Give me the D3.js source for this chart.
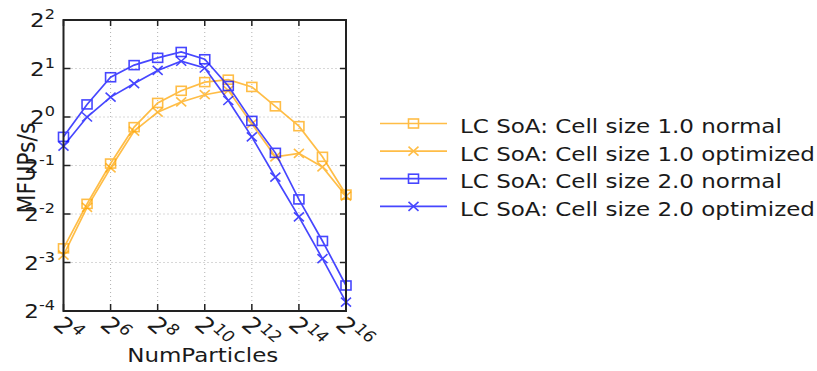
<!DOCTYPE html>
<html>
<head>
<meta charset="utf-8">
<script src="https://cdn.jsdelivr.net/npm/d3@7"></script>
<style>
  body { margin: 0; background: #fff; }
  text { font-family: "DejaVu Sans", sans-serif; fill: #1a1a1a; }
</style>
</head>
<body>
<svg id="chart" width="817" height="371"></svg>
<script>
// data (MFUPs/s against number of particles)
var numParticles = [16, 32, 64, 128, 256, 512, 1024, 2048, 4096, 8192, 16384, 32768, 65536];
var cs1Normal    = [0.153, 0.289, 0.514, 0.865, 1.223, 1.454, 1.647, 1.705, 1.537, 1.165, 0.877, 0.566, 0.330];
var cs1Optimized = [0.139, 0.275, 0.483, 0.818, 1.072, 1.240, 1.375, 1.464, 0.908, 0.566, 0.595, 0.490, 0.323];
var cs2Normal    = [0.753, 1.197, 1.765, 2.099, 2.329, 2.532, 2.282, 1.558, 0.946, 0.599, 0.308, 0.170, 0.090];
var cs2Optimized = [0.660, 1.000, 1.329, 1.613, 1.945, 2.219, 2.014, 1.266, 0.753, 0.423, 0.240, 0.132, 0.071];

var seriesNames = ["LC SoA: Cell size 1.0 normal", "LC SoA: Cell size 1.0 optimized",
                   "LC SoA: Cell size 2.0 normal", "LC SoA: Cell size 2.0 optimized"];
var xTickExps = [4, 6, 8, 10, 12, 14, 16];
var yTickExps = [-4, -3, -2, -1, 0, 1, 2];

var series = [
    {name: seriesNames[0], values: cs1Normal,    color: "#FFA500", marker: "square"},
    {name: seriesNames[1], values: cs1Optimized, color: "#FFA500", marker: "x"},
    {name: seriesNames[2], values: cs2Normal,    color: "#0000FF", marker: "square"},
    {name: seriesNames[3], values: cs2Optimized, color: "#0000FF", marker: "x"}
];

var plotLeft = 63.5, plotRight = 346, plotTop = 20, plotBottom = 311;
var sx = 1.15; // the picture is a bit wider than tall, so text is stretched
var svg = d3.select("#chart");

var x = d3.scaleLog().base(2).domain([16, 65536]).range([plotLeft, plotRight]);
var y = d3.scaleLog().base(2).domain([1 / 16, 4]).range([plotBottom, plotTop]);

// grid
var grid = svg.append("g").attr("stroke", "#b0b0b0").attr("stroke-width", 1)
    .attr("stroke-dasharray", "1,3");
grid.selectAll("line.gx").data(xTickExps.slice(1, -1)).enter().append("line")
    .attr("x1", function(d) { return x(Math.pow(2, d)); })
    .attr("x2", function(d) { return x(Math.pow(2, d)); })
    .attr("y1", plotTop).attr("y2", plotBottom);
grid.selectAll("line.gy").data(yTickExps.slice(1, -1)).enter().append("line")
    .attr("y1", function(d) { return y(Math.pow(2, d)); })
    .attr("y2", function(d) { return y(Math.pow(2, d)); })
    .attr("x1", plotLeft).attr("x2", plotRight);

// series
var line = d3.line()
    .x(function(d) { return x(d[0]); })
    .y(function(d) { return y(d[1]); });

function drawMarker(g, kind, color) {
    if (kind == "square") {
        g.append("rect").attr("x", -5).attr("y", -4.5).attr("width", 10).attr("height", 9)
            .attr("fill", "none").attr("stroke", color).attr("stroke-width", 1.6);
    } else {
        g.append("path").attr("d", "M-5,-4.5L5,4.5M-5,4.5L5,-4.5")
            .attr("stroke", color).attr("stroke-width", 1.6);
    }
}

var plot = svg.append("g");
series.forEach(function(s) {
    var pts = numParticles.map(function(n, i) { return [n, s.values[i]]; });
    var g = plot.append("g").attr("opacity", 0.72);
    g.append("path").datum(pts).attr("d", line)
        .attr("fill", "none").attr("stroke", s.color).attr("stroke-width", 1.7);
    g.selectAll("g.m").data(pts).enter().append("g")
        .attr("transform", function(d) { return "translate(" + x(d[0]) + "," + y(d[1]) + ")"; })
        .each(function() { drawMarker(d3.select(this), s.marker, s.color); });
});

// frame and inward ticks on all sides
var frame = svg.append("g").attr("stroke", "#222").attr("fill", "none");
frame.append("rect").attr("x", plotLeft).attr("y", plotTop)
    .attr("width", plotRight - plotLeft).attr("height", plotBottom - plotTop).attr("stroke-width", 2);
xTickExps.forEach(function(e) {
    var px = x(Math.pow(2, e));
    frame.append("line").attr("x1", px).attr("x2", px).attr("y1", plotBottom).attr("y2", plotBottom - 7).attr("stroke-width", 1.5);
    frame.append("line").attr("x1", px).attr("x2", px).attr("y1", plotTop).attr("y2", plotTop + 6).attr("stroke-width", 1.5);
});
yTickExps.forEach(function(e) {
    var py = y(Math.pow(2, e));
    frame.append("line").attr("y1", py).attr("y2", py).attr("x1", plotLeft).attr("x2", plotLeft + 7).attr("stroke-width", 1.5);
    frame.append("line").attr("y1", py).attr("y2", py).attr("x1", plotRight).attr("x2", plotRight - 6).attr("stroke-width", 1.5);
});

// power-of-two labels
function powerLabel(g, e, size) {
    var t = g.append("text").attr("font-size", size);
    t.append("tspan").text("2");
    t.append("tspan").attr("font-size", size * 0.7).attr("dy", -size * 0.4).text(e);
    return t;
}

yTickExps.forEach(function(e) {
    var g = svg.append("g")
        .attr("transform", "translate(55," + (y(Math.pow(2, e)) + 7) + ") scale(" + sx + ",1)");
    powerLabel(g, e, 20).attr("text-anchor", "end");
});

xTickExps.forEach(function(e) {
    var g = svg.append("g")
        .attr("transform", "translate(" + (x(Math.pow(2, e)) - 1) + ",314) scale(" + sx + ",1) rotate(45)");
    powerLabel(g, e, 22).attr("x", 2).attr("y", 15);
});

// axis titles
svg.append("g").attr("transform", "translate(" + ((plotLeft + plotRight) / 2 - 2) + ",362) scale(" + sx + ",1)")
    .append("text").attr("font-size", 20).attr("text-anchor", "middle").text("NumParticles");
svg.append("g").attr("transform", "translate(35,168) scale(" + sx + ",1) rotate(-90)")
    .append("text").attr("font-size", 22).attr("text-anchor", "middle").text("MFUPs/s");

// legend
var legend = svg.append("g");
series.forEach(function(s, i) {
    var cy = 123.5 + i * 27.6;
    var g = legend.append("g").attr("opacity", 0.72);
    g.append("line").attr("x1", 380).attr("x2", 447).attr("y1", cy).attr("y2", cy)
        .attr("stroke", s.color).attr("stroke-width", 1.7);
    var m = g.append("g").attr("transform", "translate(413.5," + cy + ")");
    drawMarker(m, s.marker, s.color);
    legend.append("g").attr("transform", "translate(460," + (cy + 9.5) + ") scale(" + sx + ",1)")
        .append("text").attr("font-size", 20).text(s.name);
});
</script>
</body>
</html>
